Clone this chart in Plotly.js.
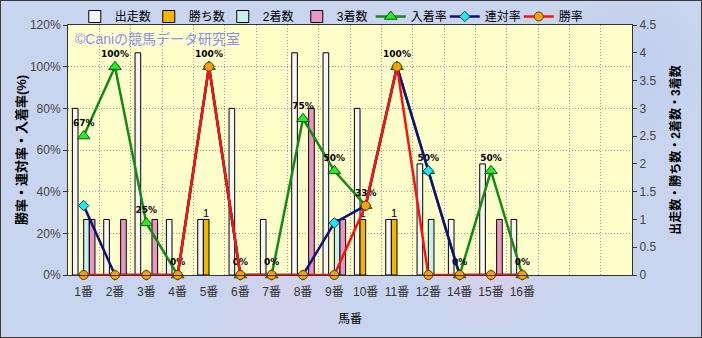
<!DOCTYPE html>
<html>
<head>
<meta charset="utf-8">
<script src="https://cdn.plot.ly/plotly-3.0.1.min.js"></script>
<style>
html,body{margin:0;padding:0;}
body{width:702px;height:338px;overflow:hidden;}
#wrap{width:702px;height:338px;box-sizing:border-box;border:1px solid #3a3a3a;
 background:#c9d5ee;
 background-image:
  radial-gradient(circle at 20% 30%, rgba(235,200,230,0.5) 0, rgba(235,200,230,0) 60px),
  radial-gradient(circle at 70% 80%, rgba(235,200,230,0.45) 0, rgba(235,200,230,0) 70px),
  radial-gradient(circle at 90% 20%, rgba(180,200,240,0.5) 0, rgba(180,200,240,0) 80px),
  radial-gradient(circle at 40% 90%, rgba(225,205,235,0.5) 0, rgba(225,205,235,0) 80px);}
#chart{width:700px;height:336px;}
</style>
</head>
<body>
<div id="wrap"><div id="chart"></div></div>
<script>
// ---- data ----
var horses = ['1番','2番','3番','4番','5番','6番','7番','8番','9番','10番','11番','12番','14番','15番','16番'];
var emptySlots = [' ','  ','   '];
var starts  = [3,1,4,1,1,3,1,4,4,3,1,2,1,2,1];   // 出走数
var wins    = [0,0,0,0,1,0,0,0,0,1,1,0,0,0,0];   // 勝ち数
var seconds = [1,0,0,0,0,0,0,0,1,0,0,1,0,0,0];   // 2着数
var thirds  = [1,1,1,0,0,0,0,3,1,0,0,0,0,1,0];   // 3着数
var showRate  = [0.667,1,0.25,0,1,0,0,0.75,0.5,0.333,1,0.5,0,0.5,0]; // 入着率
var placeRate = [0.333,0,0,0,1,0,0,0,0.25,0.333,1,0.5,0,0,0];        // 連対率
var winRate   = [0,0,0,0,1,0,0,0,0,0.333,1,0,0,0,0];                 // 勝率

var jp = 'Liberation Sans, Noto Sans CJK JP, sans-serif';
function nz(a){ return a.map(function(v){ return v === 0 ? null : v; }); }
function bar(name, vals, color, extra){
  var t = {type:'bar', name:name, x:horses, y:nz(vals), yaxis:'y',
    marker:{color:color, line:{color:'#000', width:1}}, hoverinfo:'skip'};
  for (var k in extra) t[k] = extra[k];
  return t;
}
var traces = [
  bar('出走数', starts, '#f6f6f6', {}),
  bar('勝ち数', wins, '#f2b705', {text: wins.map(function(v){return v? String(v):'';}),
     textposition:'outside', constraintext:'none', textfont:{size:11, color:'#000', family:jp}, cliponaxis:false}),
  bar('2着数', seconds, '#c6f0ee', {}),
  bar('3着数', thirds, '#e896c4', {}),
  {type:'scatter', mode:'lines+markers+text', name:'入着率', x:horses, y:showRate, yaxis:'y2',
   line:{color:'#138a13', width:2.5}, marker:{symbol:'triangle-up', size:11, color:'#22ee22', line:{color:'#0a5a0a', width:1}},
   text: showRate.map(function(v){return Math.round(v*100)+'%';}), textposition:'top center',
   textfont:{size:9, color:'#000', family:'DejaVu Sans', weight:'bold'}, cliponaxis:false, hoverinfo:'skip'},
  {type:'scatter', mode:'lines+markers', name:'連対率', x:horses, y:placeRate, yaxis:'y2',
   line:{color:'#101080', width:2.5}, marker:{symbol:'diamond', size:8, color:'#20e8f0', line:{color:'#104050', width:1}},
   cliponaxis:false, hoverinfo:'skip'},
  {type:'scatter', mode:'lines+markers', name:'勝率', x:horses, y:winRate, yaxis:'y2',
   line:{color:'#ff1010', width:2.5}, marker:{symbol:'circle', size:9, color:'#f5a010', line:{color:'#604000', width:1}},
   cliponaxis:false, hoverinfo:'skip'}
];

var layout = {
  width:700, height:336,
  margin:{l:67, r:69, t:24, b:62, autoexpand:false},
  paper_bgcolor:'rgba(0,0,0,0)', plot_bgcolor:'#ffffcc',
  font:{family:jp, size:12, color:'#000'},
  barmode:'group', bargap:0.28, bargroupgap:0,
  showlegend:true,
  legend:{orientation:'h', x:0.012, xanchor:'left', y:1.092, yanchor:'top',
    bgcolor:'rgba(0,0,0,0)', font:{size:12, family:jp}, traceorder:'normal', itemwidth:30,
    entrywidth:29, entrywidthmode:'pixels'},
  xaxis:{type:'category', categoryorder:'array', categoryarray: horses.concat(emptySlots),
    range:[-0.5, horses.length + emptySlots.length - 0.5], tickson:'boundaries', tickangle:0,
    showgrid:true, gridcolor:'#9a9a9a', griddash:'1px,2px', gridwidth:1,
    showline:true, mirror:true, linecolor:'#333', linewidth:1, ticks:'', ticklabelstandoff:6,
    tickfont:{size:12, color:'#333'},
    title:{text:'馬番', font:{size:12, family:jp}, standoff:16}},
  yaxis:{side:'right', range:[0,4.5], dtick:0.5, tick0:0, showgrid:false, zeroline:false,
    showline:true, mirror:true, linecolor:'#333', ticks:'outside', ticklen:4, tickcolor:'#333',
    tickfont:{size:12, color:'#444'},
    title:{text:'出走数・勝ち数・2着数・3着数', font:{size:12, family:jp, weight:'bold'}, standoff:16}},
  yaxis2:{overlaying:'y', side:'left', range:[0,1.2], dtick:0.2, tick0:0, tickformat:'.0%',
    showgrid:true, gridcolor:'#9a9a9a', griddash:'1px,2px', zeroline:false,
    showline:true, linecolor:'#333', ticks:'outside', ticklen:4, tickcolor:'#333',
    tickfont:{size:12, color:'#444'},
    title:{text:'勝率・連対率・入着率(%)', font:{size:13, family:jp, weight:'bold'}, standoff:0}},
  annotations:[{xref:'paper', yref:'paper', x:0.008, y:0.985, xanchor:'left', yanchor:'top',
    text:'©Caniの競馬データ研究室', showarrow:false, font:{size:14, color:'#8c8ef0', family:jp}}]
};
Plotly.newPlot('chart', traces, layout, {displayModeBar:false, staticPlot:true});
</script>
</body>
</html>
